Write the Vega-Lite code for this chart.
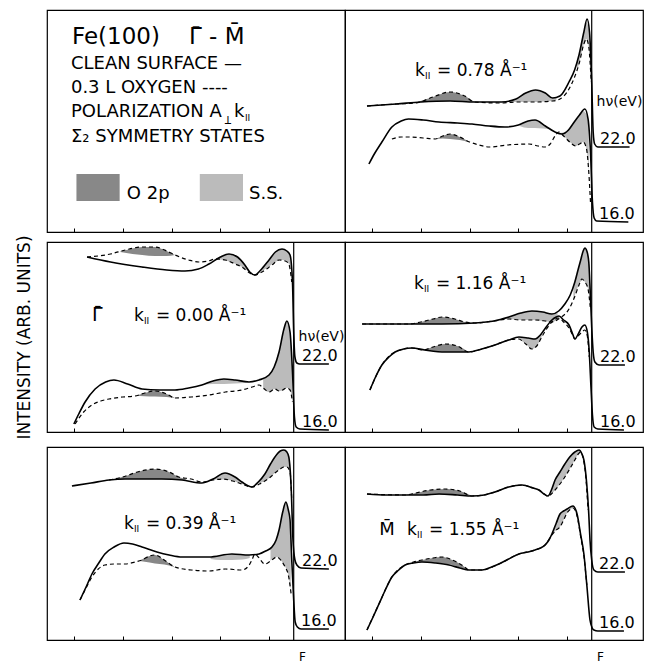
{
"padding":{"left":14,"top":8,"right":2,"bottom":0},
"config":{"view":{"stroke":"black","strokeWidth":1.2},"font":"DejaVu Sans","axis":{"labelFont":"DejaVu Sans","titleFont":"DejaVu Sans","labelColor":"black","titleColor":"black","tickColor":"black"}},
"spacing":0,
"datasets":{
"ef":[{"e":0}],
"curves":[
{"p":"r1","s":"22","k":"c","e":-9.2,"v":126},{"p":"r1","s":"22","k":"c","e":-8.0,"v":128},{"p":"r1","s":"22","k":"c","e":-7.0,"v":130},{"p":"r1","s":"22","k":"c","e":-5.8,"v":131},{"p":"r1","s":"22","k":"c","e":-4.8,"v":130},{"p":"r1","s":"22","k":"c","e":-3.7,"v":130},{"p":"r1","s":"22","k":"c","e":-3.1,"v":133},{"p":"r1","s":"22","k":"c","e":-2.7,"v":139},{"p":"r1","s":"22","k":"c","e":-2.3,"v":142},{"p":"r1","s":"22","k":"c","e":-1.9,"v":139},{"p":"r1","s":"22","k":"c","e":-1.6,"v":134},{"p":"r1","s":"22","k":"c","e":-1.3,"v":136},{"p":"r1","s":"22","k":"c","e":-0.93,"v":150},{"p":"r1","s":"22","k":"c","e":-0.7,"v":162},{"p":"r1","s":"22","k":"c","e":-0.52,"v":177},{"p":"r1","s":"22","k":"c","e":-0.32,"v":200},{"p":"r1","s":"22","k":"c","e":-0.19,"v":213},{"p":"r1","s":"22","k":"c","e":-0.09,"v":200},{"p":"r1","s":"22","k":"c","e":0.0,"v":150},{"p":"r1","s":"22","k":"c","e":0.06,"v":100},{"p":"r1","s":"22","k":"c","e":0.12,"v":88},{"p":"r1","s":"22","k":"c","e":0.25,"v":85},{"p":"r1","s":"22","k":"c","e":1.55,"v":85},
{"p":"r1","s":"22","k":"o","e":-9.2,"v":126},{"p":"r1","s":"22","k":"o","e":-8.0,"v":128},{"p":"r1","s":"22","k":"o","e":-7.2,"v":129},{"p":"r1","s":"22","k":"o","e":-6.5,"v":135},{"p":"r1","s":"22","k":"o","e":-5.8,"v":140},{"p":"r1","s":"22","k":"o","e":-5.2,"v":136},{"p":"r1","s":"22","k":"o","e":-4.8,"v":130},{"p":"r1","s":"22","k":"o","e":-3.7,"v":129},{"p":"r1","s":"22","k":"o","e":-3.1,"v":130},{"p":"r1","s":"22","k":"o","e":-2.3,"v":130},{"p":"r1","s":"22","k":"o","e":-1.6,"v":131},{"p":"r1","s":"22","k":"o","e":-1.3,"v":133},{"p":"r1","s":"22","k":"o","e":-0.93,"v":143},{"p":"r1","s":"22","k":"o","e":-0.7,"v":155},{"p":"r1","s":"22","k":"o","e":-0.52,"v":168},{"p":"r1","s":"22","k":"o","e":-0.32,"v":188},{"p":"r1","s":"22","k":"o","e":-0.22,"v":193},{"p":"r1","s":"22","k":"o","e":-0.12,"v":185},{"p":"r1","s":"22","k":"o","e":-0.02,"v":150},
{"p":"r1","s":"16","k":"c","e":-9.12,"v":68},{"p":"r1","s":"16","k":"c","e":-8.9,"v":78},{"p":"r1","s":"16","k":"c","e":-8.59,"v":90},{"p":"r1","s":"16","k":"c","e":-8.18,"v":105},{"p":"r1","s":"16","k":"c","e":-7.8,"v":111},{"p":"r1","s":"16","k":"c","e":-7.5,"v":113},{"p":"r1","s":"16","k":"c","e":-6.9,"v":112},{"p":"r1","s":"16","k":"c","e":-6.25,"v":110},{"p":"r1","s":"16","k":"c","e":-5.5,"v":109},{"p":"r1","s":"16","k":"c","e":-4.9,"v":108},{"p":"r1","s":"16","k":"c","e":-4.2,"v":106},{"p":"r1","s":"16","k":"c","e":-3.55,"v":105},{"p":"r1","s":"16","k":"c","e":-3.0,"v":107},{"p":"r1","s":"16","k":"c","e":-2.6,"v":111},{"p":"r1","s":"16","k":"c","e":-2.32,"v":112},{"p":"r1","s":"16","k":"c","e":-1.9,"v":106},{"p":"r1","s":"16","k":"c","e":-1.5,"v":100},{"p":"r1","s":"16","k":"c","e":-1.22,"v":98},{"p":"r1","s":"16","k":"c","e":-0.95,"v":102},{"p":"r1","s":"16","k":"c","e":-0.8,"v":107},{"p":"r1","s":"16","k":"c","e":-0.5,"v":117},{"p":"r1","s":"16","k":"c","e":-0.28,"v":123},{"p":"r1","s":"16","k":"c","e":-0.15,"v":113},{"p":"r1","s":"16","k":"c","e":-0.05,"v":80},{"p":"r1","s":"16","k":"c","e":0.03,"v":30},{"p":"r1","s":"16","k":"c","e":0.1,"v":14},{"p":"r1","s":"16","k":"c","e":0.2,"v":11},{"p":"r1","s":"16","k":"c","e":1.5,"v":10},
{"p":"r1","s":"16","k":"o","e":-8.18,"v":93},{"p":"r1","s":"16","k":"o","e":-7.8,"v":95},{"p":"r1","s":"16","k":"o","e":-7.5,"v":95},{"p":"r1","s":"16","k":"o","e":-6.9,"v":94},{"p":"r1","s":"16","k":"o","e":-6.4,"v":93},{"p":"r1","s":"16","k":"o","e":-6.1,"v":96},{"p":"r1","s":"16","k":"o","e":-5.8,"v":98},{"p":"r1","s":"16","k":"o","e":-5.4,"v":95},{"p":"r1","s":"16","k":"o","e":-5.0,"v":90},{"p":"r1","s":"16","k":"o","e":-4.6,"v":87},{"p":"r1","s":"16","k":"o","e":-4.2,"v":85},{"p":"r1","s":"16","k":"o","e":-3.45,"v":87},{"p":"r1","s":"16","k":"o","e":-2.57,"v":88},{"p":"r1","s":"16","k":"o","e":-2.2,"v":86},{"p":"r1","s":"16","k":"o","e":-1.91,"v":85},{"p":"r1","s":"16","k":"o","e":-1.7,"v":88},{"p":"r1","s":"16","k":"o","e":-1.5,"v":96},{"p":"r1","s":"16","k":"o","e":-1.35,"v":100},{"p":"r1","s":"16","k":"o","e":-1.15,"v":96},{"p":"r1","s":"16","k":"o","e":-0.9,"v":90},{"p":"r1","s":"16","k":"o","e":-0.65,"v":86},{"p":"r1","s":"16","k":"o","e":-0.5,"v":88},{"p":"r1","s":"16","k":"o","e":-0.35,"v":90},{"p":"r1","s":"16","k":"o","e":-0.22,"v":84},{"p":"r1","s":"16","k":"o","e":-0.12,"v":60},{"p":"r1","s":"16","k":"o","e":-0.05,"v":30},
{"p":"l2","s":"22","k":"c","e":-8.46,"v":175},{"p":"l2","s":"22","k":"c","e":-7.5,"v":170},{"p":"l2","s":"22","k":"c","e":-6.21,"v":165},{"p":"l2","s":"22","k":"c","e":-5.2,"v":162},{"p":"l2","s":"22","k":"c","e":-4.45,"v":161},{"p":"l2","s":"22","k":"c","e":-3.9,"v":163},{"p":"l2","s":"22","k":"c","e":-3.47,"v":168},{"p":"l2","s":"22","k":"c","e":-3.0,"v":175},{"p":"l2","s":"22","k":"c","e":-2.65,"v":178},{"p":"l2","s":"22","k":"c","e":-2.3,"v":175},{"p":"l2","s":"22","k":"c","e":-2.0,"v":167},{"p":"l2","s":"22","k":"c","e":-1.8,"v":160},{"p":"l2","s":"22","k":"c","e":-1.59,"v":157},{"p":"l2","s":"22","k":"c","e":-1.35,"v":162},{"p":"l2","s":"22","k":"c","e":-1.01,"v":172},{"p":"l2","s":"22","k":"c","e":-0.75,"v":180},{"p":"l2","s":"22","k":"c","e":-0.48,"v":183},{"p":"l2","s":"22","k":"c","e":-0.28,"v":181},{"p":"l2","s":"22","k":"c","e":-0.15,"v":177},{"p":"l2","s":"22","k":"c","e":-0.05,"v":150},{"p":"l2","s":"22","k":"c","e":0.0,"v":100},{"p":"l2","s":"22","k":"c","e":0.05,"v":75},{"p":"l2","s":"22","k":"c","e":0.13,"v":69},{"p":"l2","s":"22","k":"c","e":0.25,"v":68},{"p":"l2","s":"22","k":"c","e":1.44,"v":68},
{"p":"l2","s":"22","k":"o","e":-8.46,"v":175},{"p":"l2","s":"22","k":"o","e":-7.5,"v":178},{"p":"l2","s":"22","k":"o","e":-6.9,"v":182},{"p":"l2","s":"22","k":"o","e":-6.2,"v":185},{"p":"l2","s":"22","k":"o","e":-5.68,"v":185},{"p":"l2","s":"22","k":"o","e":-5.2,"v":181},{"p":"l2","s":"22","k":"o","e":-4.86,"v":177},{"p":"l2","s":"22","k":"o","e":-4.3,"v":172},{"p":"l2","s":"22","k":"o","e":-3.88,"v":170},{"p":"l2","s":"22","k":"o","e":-3.5,"v":171},{"p":"l2","s":"22","k":"o","e":-3.2,"v":173},{"p":"l2","s":"22","k":"o","e":-2.8,"v":172},{"p":"l2","s":"22","k":"o","e":-2.4,"v":168},{"p":"l2","s":"22","k":"o","e":-2.12,"v":165},{"p":"l2","s":"22","k":"o","e":-1.8,"v":159},{"p":"l2","s":"22","k":"o","e":-1.59,"v":157},{"p":"l2","s":"22","k":"o","e":-1.3,"v":160},{"p":"l2","s":"22","k":"o","e":-0.89,"v":167},{"p":"l2","s":"22","k":"o","e":-0.6,"v":172},{"p":"l2","s":"22","k":"o","e":-0.35,"v":171},{"p":"l2","s":"22","k":"o","e":-0.2,"v":168},{"p":"l2","s":"22","k":"o","e":-0.08,"v":150},
{"p":"l2","s":"16","k":"c","e":-9.0,"v":8},{"p":"l2","s":"16","k":"c","e":-8.8,"v":18},{"p":"l2","s":"16","k":"c","e":-8.54,"v":30},{"p":"l2","s":"16","k":"c","e":-8.13,"v":43},{"p":"l2","s":"16","k":"c","e":-7.7,"v":50},{"p":"l2","s":"16","k":"c","e":-7.36,"v":52},{"p":"l2","s":"16","k":"c","e":-6.8,"v":48},{"p":"l2","s":"16","k":"c","e":-6.21,"v":43},{"p":"l2","s":"16","k":"c","e":-5.5,"v":42},{"p":"l2","s":"16","k":"c","e":-4.86,"v":42},{"p":"l2","s":"16","k":"c","e":-4.3,"v":44},{"p":"l2","s":"16","k":"c","e":-3.76,"v":47},{"p":"l2","s":"16","k":"c","e":-3.3,"v":51},{"p":"l2","s":"16","k":"c","e":-2.86,"v":53},{"p":"l2","s":"16","k":"c","e":-2.4,"v":52},{"p":"l2","s":"16","k":"c","e":-1.83,"v":50},{"p":"l2","s":"16","k":"c","e":-1.42,"v":52},{"p":"l2","s":"16","k":"c","e":-1.01,"v":57},{"p":"l2","s":"16","k":"c","e":-0.8,"v":65},{"p":"l2","s":"16","k":"c","e":-0.6,"v":80},{"p":"l2","s":"16","k":"c","e":-0.4,"v":103},{"p":"l2","s":"16","k":"c","e":-0.28,"v":111},{"p":"l2","s":"16","k":"c","e":-0.15,"v":100},{"p":"l2","s":"16","k":"c","e":-0.05,"v":60},{"p":"l2","s":"16","k":"c","e":0.03,"v":15},{"p":"l2","s":"16","k":"c","e":0.1,"v":5},{"p":"l2","s":"16","k":"c","e":0.25,"v":3},{"p":"l2","s":"16","k":"c","e":1.44,"v":2},
{"p":"l2","s":"16","k":"o","e":-8.95,"v":8},{"p":"l2","s":"16","k":"o","e":-8.6,"v":20},{"p":"l2","s":"16","k":"o","e":-8.26,"v":27},{"p":"l2","s":"16","k":"o","e":-7.9,"v":31},{"p":"l2","s":"16","k":"o","e":-7.56,"v":33},{"p":"l2","s":"16","k":"o","e":-7.0,"v":35},{"p":"l2","s":"16","k":"o","e":-6.5,"v":36},{"p":"l2","s":"16","k":"o","e":-6.1,"v":39},{"p":"l2","s":"16","k":"o","e":-5.68,"v":41},{"p":"l2","s":"16","k":"o","e":-5.2,"v":38},{"p":"l2","s":"16","k":"o","e":-4.86,"v":34},{"p":"l2","s":"16","k":"o","e":-4.2,"v":35},{"p":"l2","s":"16","k":"o","e":-3.47,"v":37},{"p":"l2","s":"16","k":"o","e":-2.8,"v":40},{"p":"l2","s":"16","k":"o","e":-2.12,"v":42},{"p":"l2","s":"16","k":"o","e":-1.7,"v":45},{"p":"l2","s":"16","k":"o","e":-1.42,"v":47},{"p":"l2","s":"16","k":"o","e":-1.2,"v":43},{"p":"l2","s":"16","k":"o","e":-1.01,"v":40},{"p":"l2","s":"16","k":"o","e":-0.77,"v":43},{"p":"l2","s":"16","k":"o","e":-0.6,"v":41},{"p":"l2","s":"16","k":"o","e":-0.45,"v":42},{"p":"l2","s":"16","k":"o","e":-0.3,"v":44},{"p":"l2","s":"16","k":"o","e":-0.15,"v":42},{"p":"l2","s":"16","k":"o","e":-0.05,"v":30},
{"p":"l3","s":"22","k":"c","e":-9.08,"v":154},{"p":"l3","s":"22","k":"c","e":-8.3,"v":157},{"p":"l3","s":"22","k":"c","e":-7.56,"v":160},{"p":"l3","s":"22","k":"c","e":-6.9,"v":161},{"p":"l3","s":"22","k":"c","e":-6.21,"v":161},{"p":"l3","s":"22","k":"c","e":-5.4,"v":161},{"p":"l3","s":"22","k":"c","e":-4.57,"v":160},{"p":"l3","s":"22","k":"c","e":-3.76,"v":157},{"p":"l3","s":"22","k":"c","e":-3.3,"v":161},{"p":"l3","s":"22","k":"c","e":-2.81,"v":167},{"p":"l3","s":"22","k":"c","e":-2.4,"v":163},{"p":"l3","s":"22","k":"c","e":-2.12,"v":158},{"p":"l3","s":"22","k":"c","e":-1.71,"v":153},{"p":"l3","s":"22","k":"c","e":-1.45,"v":158},{"p":"l3","s":"22","k":"c","e":-1.18,"v":166},{"p":"l3","s":"22","k":"c","e":-0.95,"v":176},{"p":"l3","s":"22","k":"c","e":-0.77,"v":183},{"p":"l3","s":"22","k":"c","e":-0.55,"v":189},{"p":"l3","s":"22","k":"c","e":-0.4,"v":190},{"p":"l3","s":"22","k":"c","e":-0.28,"v":188},{"p":"l3","s":"22","k":"c","e":-0.2,"v":183},{"p":"l3","s":"22","k":"c","e":-0.1,"v":150},{"p":"l3","s":"22","k":"c","e":-0.03,"v":100},{"p":"l3","s":"22","k":"c","e":0.05,"v":80},{"p":"l3","s":"22","k":"c","e":0.13,"v":75},{"p":"l3","s":"22","k":"c","e":0.3,"v":72},{"p":"l3","s":"22","k":"c","e":1.44,"v":71},
{"p":"l3","s":"22","k":"o","e":-7.56,"v":160},{"p":"l3","s":"22","k":"o","e":-7.0,"v":163},{"p":"l3","s":"22","k":"o","e":-6.4,"v":168},{"p":"l3","s":"22","k":"o","e":-5.68,"v":171},{"p":"l3","s":"22","k":"o","e":-5.1,"v":168},{"p":"l3","s":"22","k":"o","e":-4.7,"v":163},{"p":"l3","s":"22","k":"o","e":-4.2,"v":161},{"p":"l3","s":"22","k":"o","e":-3.76,"v":158},{"p":"l3","s":"22","k":"o","e":-3.3,"v":160},{"p":"l3","s":"22","k":"o","e":-2.9,"v":161},{"p":"l3","s":"22","k":"o","e":-2.5,"v":159},{"p":"l3","s":"22","k":"o","e":-2.12,"v":156},{"p":"l3","s":"22","k":"o","e":-1.71,"v":153},{"p":"l3","s":"22","k":"o","e":-1.4,"v":156},{"p":"l3","s":"22","k":"o","e":-1.18,"v":159},{"p":"l3","s":"22","k":"o","e":-0.95,"v":163},{"p":"l3","s":"22","k":"o","e":-0.77,"v":167},{"p":"l3","s":"22","k":"o","e":-0.55,"v":171},{"p":"l3","s":"22","k":"o","e":-0.4,"v":173},{"p":"l3","s":"22","k":"o","e":-0.28,"v":173},{"p":"l3","s":"22","k":"o","e":-0.15,"v":168},{"p":"l3","s":"22","k":"o","e":-0.08,"v":140},
{"p":"l3","s":"16","k":"c","e":-8.75,"v":40},{"p":"l3","s":"16","k":"c","e":-8.5,"v":53},{"p":"l3","s":"16","k":"c","e":-8.26,"v":66},{"p":"l3","s":"16","k":"c","e":-7.98,"v":77},{"p":"l3","s":"16","k":"c","e":-7.73,"v":86},{"p":"l3","s":"16","k":"c","e":-7.35,"v":93},{"p":"l3","s":"16","k":"c","e":-6.95,"v":97},{"p":"l3","s":"16","k":"c","e":-6.6,"v":96},{"p":"l3","s":"16","k":"c","e":-6.21,"v":93},{"p":"l3","s":"16","k":"c","e":-5.6,"v":88},{"p":"l3","s":"16","k":"c","e":-5.1,"v":85},{"p":"l3","s":"16","k":"c","e":-4.57,"v":83},{"p":"l3","s":"16","k":"c","e":-3.47,"v":83},{"p":"l3","s":"16","k":"c","e":-2.53,"v":86},{"p":"l3","s":"16","k":"c","e":-1.83,"v":85},{"p":"l3","s":"16","k":"c","e":-1.42,"v":86},{"p":"l3","s":"16","k":"c","e":-1.15,"v":89},{"p":"l3","s":"16","k":"c","e":-0.89,"v":93},{"p":"l3","s":"16","k":"c","e":-0.72,"v":100},{"p":"l3","s":"16","k":"c","e":-0.6,"v":110},{"p":"l3","s":"16","k":"c","e":-0.45,"v":128},{"p":"l3","s":"16","k":"c","e":-0.32,"v":138},{"p":"l3","s":"16","k":"c","e":-0.22,"v":130},{"p":"l3","s":"16","k":"c","e":-0.15,"v":120},{"p":"l3","s":"16","k":"c","e":-0.08,"v":80},{"p":"l3","s":"16","k":"c","e":0.0,"v":40},{"p":"l3","s":"16","k":"c","e":0.06,"v":18},{"p":"l3","s":"16","k":"c","e":0.15,"v":13},{"p":"l3","s":"16","k":"c","e":0.3,"v":11},{"p":"l3","s":"16","k":"c","e":1.44,"v":11},
{"p":"l3","s":"16","k":"o","e":-8.75,"v":40},{"p":"l3","s":"16","k":"o","e":-8.5,"v":52},{"p":"l3","s":"16","k":"o","e":-8.26,"v":63},{"p":"l3","s":"16","k":"o","e":-8.0,"v":71},{"p":"l3","s":"16","k":"o","e":-7.73,"v":75},{"p":"l3","s":"16","k":"o","e":-7.3,"v":76},{"p":"l3","s":"16","k":"o","e":-6.9,"v":76},{"p":"l3","s":"16","k":"o","e":-6.5,"v":78},{"p":"l3","s":"16","k":"o","e":-6.21,"v":80},{"p":"l3","s":"16","k":"o","e":-5.9,"v":84},{"p":"l3","s":"16","k":"o","e":-5.68,"v":85},{"p":"l3","s":"16","k":"o","e":-5.3,"v":80},{"p":"l3","s":"16","k":"o","e":-4.86,"v":73},{"p":"l3","s":"16","k":"o","e":-4.2,"v":70},{"p":"l3","s":"16","k":"o","e":-3.47,"v":69},{"p":"l3","s":"16","k":"o","e":-2.8,"v":71},{"p":"l3","s":"16","k":"o","e":-2.12,"v":70},{"p":"l3","s":"16","k":"o","e":-1.85,"v":74},{"p":"l3","s":"16","k":"o","e":-1.71,"v":80},{"p":"l3","s":"16","k":"o","e":-1.59,"v":86},{"p":"l3","s":"16","k":"o","e":-1.45,"v":83},{"p":"l3","s":"16","k":"o","e":-1.18,"v":76},{"p":"l3","s":"16","k":"o","e":-0.95,"v":79},{"p":"l3","s":"16","k":"o","e":-0.69,"v":83},{"p":"l3","s":"16","k":"o","e":-0.5,"v":79},{"p":"l3","s":"16","k":"o","e":-0.35,"v":73},{"p":"l3","s":"16","k":"o","e":-0.22,"v":65},{"p":"l3","s":"16","k":"o","e":-0.1,"v":45},
{"p":"r2","s":"22","k":"c","e":-9.4,"v":108},{"p":"r2","s":"22","k":"c","e":-8.5,"v":108},{"p":"r2","s":"22","k":"c","e":-7.48,"v":108},{"p":"r2","s":"22","k":"c","e":-6.13,"v":108},{"p":"r2","s":"22","k":"c","e":-4.78,"v":109},{"p":"r2","s":"22","k":"c","e":-4.0,"v":111},{"p":"r2","s":"22","k":"c","e":-3.39,"v":115},{"p":"r2","s":"22","k":"c","e":-2.9,"v":119},{"p":"r2","s":"22","k":"c","e":-2.45,"v":121},{"p":"r2","s":"22","k":"c","e":-2.0,"v":120},{"p":"r2","s":"22","k":"c","e":-1.63,"v":118},{"p":"r2","s":"22","k":"c","e":-1.35,"v":121},{"p":"r2","s":"22","k":"c","e":-1.1,"v":128},{"p":"r2","s":"22","k":"c","e":-0.88,"v":137},{"p":"r2","s":"22","k":"c","e":-0.69,"v":150},{"p":"r2","s":"22","k":"c","e":-0.55,"v":163},{"p":"r2","s":"22","k":"c","e":-0.45,"v":172},{"p":"r2","s":"22","k":"c","e":-0.35,"v":181},{"p":"r2","s":"22","k":"c","e":-0.28,"v":184},{"p":"r2","s":"22","k":"c","e":-0.2,"v":181},{"p":"r2","s":"22","k":"c","e":-0.12,"v":170},{"p":"r2","s":"22","k":"c","e":-0.06,"v":140},{"p":"r2","s":"22","k":"c","e":0.0,"v":105},{"p":"r2","s":"22","k":"c","e":0.06,"v":80},{"p":"r2","s":"22","k":"c","e":0.13,"v":70},{"p":"r2","s":"22","k":"c","e":0.3,"v":67},{"p":"r2","s":"22","k":"c","e":1.36,"v":67},
{"p":"r2","s":"22","k":"o","e":-9.4,"v":108},{"p":"r2","s":"22","k":"o","e":-7.48,"v":108},{"p":"r2","s":"22","k":"o","e":-7.0,"v":110},{"p":"r2","s":"22","k":"o","e":-6.5,"v":113},{"p":"r2","s":"22","k":"o","e":-6.13,"v":115},{"p":"r2","s":"22","k":"o","e":-5.6,"v":113},{"p":"r2","s":"22","k":"o","e":-5.2,"v":110},{"p":"r2","s":"22","k":"o","e":-4.78,"v":109},{"p":"r2","s":"22","k":"o","e":-4.0,"v":111},{"p":"r2","s":"22","k":"o","e":-3.39,"v":113},{"p":"r2","s":"22","k":"o","e":-2.9,"v":112},{"p":"r2","s":"22","k":"o","e":-2.3,"v":112},{"p":"r2","s":"22","k":"o","e":-1.9,"v":111},{"p":"r2","s":"22","k":"o","e":-1.63,"v":110},{"p":"r2","s":"22","k":"o","e":-1.3,"v":114},{"p":"r2","s":"22","k":"o","e":-0.93,"v":123},{"p":"r2","s":"22","k":"o","e":-0.7,"v":135},{"p":"r2","s":"22","k":"o","e":-0.52,"v":147},{"p":"r2","s":"22","k":"o","e":-0.4,"v":153},{"p":"r2","s":"22","k":"o","e":-0.28,"v":150},{"p":"r2","s":"22","k":"o","e":-0.15,"v":143},{"p":"r2","s":"22","k":"o","e":-0.06,"v":125},
{"p":"r2","s":"16","k":"c","e":-9.08,"v":42},{"p":"r2","s":"16","k":"c","e":-8.85,"v":55},{"p":"r2","s":"16","k":"c","e":-8.59,"v":67},{"p":"r2","s":"16","k":"c","e":-8.3,"v":75},{"p":"r2","s":"16","k":"c","e":-8.05,"v":80},{"p":"r2","s":"16","k":"c","e":-7.7,"v":83},{"p":"r2","s":"16","k":"c","e":-7.36,"v":84},{"p":"r2","s":"16","k":"c","e":-6.83,"v":82},{"p":"r2","s":"16","k":"c","e":-6.0,"v":80},{"p":"r2","s":"16","k":"c","e":-5.03,"v":80},{"p":"r2","s":"16","k":"c","e":-4.5,"v":83},{"p":"r2","s":"16","k":"c","e":-3.96,"v":87},{"p":"r2","s":"16","k":"c","e":-3.4,"v":92},{"p":"r2","s":"16","k":"c","e":-2.98,"v":95},{"p":"r2","s":"16","k":"c","e":-2.6,"v":94},{"p":"r2","s":"16","k":"c","e":-2.32,"v":93},{"p":"r2","s":"16","k":"c","e":-2.1,"v":97},{"p":"r2","s":"16","k":"c","e":-1.95,"v":102},{"p":"r2","s":"16","k":"c","e":-1.63,"v":112},{"p":"r2","s":"16","k":"c","e":-1.45,"v":115},{"p":"r2","s":"16","k":"c","e":-1.34,"v":116},{"p":"r2","s":"16","k":"c","e":-1.15,"v":112},{"p":"r2","s":"16","k":"c","e":-0.93,"v":107},{"p":"r2","s":"16","k":"c","e":-0.78,"v":98},{"p":"r2","s":"16","k":"c","e":-0.69,"v":93},{"p":"r2","s":"16","k":"c","e":-0.55,"v":98},{"p":"r2","s":"16","k":"c","e":-0.4,"v":105},{"p":"r2","s":"16","k":"c","e":-0.28,"v":107},{"p":"r2","s":"16","k":"c","e":-0.18,"v":100},{"p":"r2","s":"16","k":"c","e":-0.1,"v":80},{"p":"r2","s":"16","k":"c","e":-0.03,"v":45},{"p":"r2","s":"16","k":"c","e":0.03,"v":17},{"p":"r2","s":"16","k":"c","e":0.1,"v":5},{"p":"r2","s":"16","k":"c","e":0.25,"v":3},{"p":"r2","s":"16","k":"c","e":1.32,"v":2},
{"p":"r2","s":"16","k":"o","e":-9.08,"v":42},{"p":"r2","s":"16","k":"o","e":-8.59,"v":67},{"p":"r2","s":"16","k":"o","e":-8.05,"v":80},{"p":"r2","s":"16","k":"o","e":-7.36,"v":84},{"p":"r2","s":"16","k":"o","e":-6.9,"v":82},{"p":"r2","s":"16","k":"o","e":-6.5,"v":85},{"p":"r2","s":"16","k":"o","e":-6.0,"v":88},{"p":"r2","s":"16","k":"o","e":-5.5,"v":86},{"p":"r2","s":"16","k":"o","e":-5.03,"v":80},{"p":"r2","s":"16","k":"o","e":-4.5,"v":83},{"p":"r2","s":"16","k":"o","e":-3.96,"v":87},{"p":"r2","s":"16","k":"o","e":-3.4,"v":92},{"p":"r2","s":"16","k":"o","e":-3.0,"v":93},{"p":"r2","s":"16","k":"o","e":-2.7,"v":88},{"p":"r2","s":"16","k":"o","e":-2.45,"v":83},{"p":"r2","s":"16","k":"o","e":-2.25,"v":86},{"p":"r2","s":"16","k":"o","e":-2.0,"v":97},{"p":"r2","s":"16","k":"o","e":-1.63,"v":110},{"p":"r2","s":"16","k":"o","e":-1.34,"v":114},{"p":"r2","s":"16","k":"o","e":-1.15,"v":110},{"p":"r2","s":"16","k":"o","e":-0.93,"v":104},{"p":"r2","s":"16","k":"o","e":-0.78,"v":97},{"p":"r2","s":"16","k":"o","e":-0.69,"v":93},{"p":"r2","s":"16","k":"o","e":-0.55,"v":96},{"p":"r2","s":"16","k":"o","e":-0.4,"v":100},{"p":"r2","s":"16","k":"o","e":-0.28,"v":102},{"p":"r2","s":"16","k":"o","e":-0.18,"v":96},{"p":"r2","s":"16","k":"o","e":-0.1,"v":75},
{"p":"r3","s":"22","k":"c","e":-9.2,"v":146},{"p":"r3","s":"22","k":"c","e":-8.4,"v":145},{"p":"r3","s":"22","k":"c","e":-7.64,"v":145},{"p":"r3","s":"22","k":"c","e":-6.9,"v":145},{"p":"r3","s":"22","k":"c","e":-6.25,"v":146},{"p":"r3","s":"22","k":"c","e":-5.5,"v":145},{"p":"r3","s":"22","k":"c","e":-4.9,"v":144},{"p":"r3","s":"22","k":"c","e":-4.4,"v":145},{"p":"r3","s":"22","k":"c","e":-3.96,"v":148},{"p":"r3","s":"22","k":"c","e":-3.4,"v":153},{"p":"r3","s":"22","k":"c","e":-2.85,"v":155},{"p":"r3","s":"22","k":"c","e":-2.4,"v":152},{"p":"r3","s":"22","k":"c","e":-2.16,"v":150},{"p":"r3","s":"22","k":"c","e":-1.95,"v":146},{"p":"r3","s":"22","k":"c","e":-1.79,"v":144},{"p":"r3","s":"22","k":"c","e":-1.65,"v":150},{"p":"r3","s":"22","k":"c","e":-1.5,"v":160},{"p":"r3","s":"22","k":"c","e":-1.3,"v":168},{"p":"r3","s":"22","k":"c","e":-1.1,"v":176},{"p":"r3","s":"22","k":"c","e":-0.9,"v":183},{"p":"r3","s":"22","k":"c","e":-0.69,"v":188},{"p":"r3","s":"22","k":"c","e":-0.52,"v":190},{"p":"r3","s":"22","k":"c","e":-0.4,"v":186},{"p":"r3","s":"22","k":"c","e":-0.32,"v":180},{"p":"r3","s":"22","k":"c","e":-0.2,"v":155},{"p":"r3","s":"22","k":"c","e":-0.12,"v":126},{"p":"r3","s":"22","k":"c","e":-0.07,"v":100},{"p":"r3","s":"22","k":"c","e":0.0,"v":80},{"p":"r3","s":"22","k":"c","e":0.09,"v":70},{"p":"r3","s":"22","k":"c","e":0.25,"v":68},{"p":"r3","s":"22","k":"c","e":1.36,"v":68},
{"p":"r3","s":"22","k":"o","e":-9.2,"v":146},{"p":"r3","s":"22","k":"o","e":-7.64,"v":145},{"p":"r3","s":"22","k":"o","e":-7.2,"v":147},{"p":"r3","s":"22","k":"o","e":-6.6,"v":150},{"p":"r3","s":"22","k":"o","e":-6.0,"v":151},{"p":"r3","s":"22","k":"o","e":-5.4,"v":149},{"p":"r3","s":"22","k":"o","e":-4.9,"v":144},{"p":"r3","s":"22","k":"o","e":-4.4,"v":145},{"p":"r3","s":"22","k":"o","e":-3.96,"v":148},{"p":"r3","s":"22","k":"o","e":-3.4,"v":153},{"p":"r3","s":"22","k":"o","e":-2.85,"v":155},{"p":"r3","s":"22","k":"o","e":-2.4,"v":152},{"p":"r3","s":"22","k":"o","e":-2.16,"v":150},{"p":"r3","s":"22","k":"o","e":-1.95,"v":146},{"p":"r3","s":"22","k":"o","e":-1.79,"v":144},{"p":"r3","s":"22","k":"o","e":-1.65,"v":146},{"p":"r3","s":"22","k":"o","e":-1.5,"v":150},{"p":"r3","s":"22","k":"o","e":-1.3,"v":156},{"p":"r3","s":"22","k":"o","e":-1.1,"v":163},{"p":"r3","s":"22","k":"o","e":-0.9,"v":171},{"p":"r3","s":"22","k":"o","e":-0.69,"v":180},{"p":"r3","s":"22","k":"o","e":-0.55,"v":186},{"p":"r3","s":"22","k":"o","e":-0.45,"v":188},{"p":"r3","s":"22","k":"o","e":-0.35,"v":182},{"p":"r3","s":"22","k":"o","e":-0.25,"v":165},{"p":"r3","s":"22","k":"o","e":-0.15,"v":130},
{"p":"r3","s":"16","k":"c","e":-9.2,"v":10},{"p":"r3","s":"16","k":"c","e":-8.95,"v":23},{"p":"r3","s":"16","k":"c","e":-8.71,"v":36},{"p":"r3","s":"16","k":"c","e":-8.45,"v":50},{"p":"r3","s":"16","k":"c","e":-8.18,"v":63},{"p":"r3","s":"16","k":"c","e":-7.9,"v":70},{"p":"r3","s":"16","k":"c","e":-7.64,"v":75},{"p":"r3","s":"16","k":"c","e":-7.3,"v":77},{"p":"r3","s":"16","k":"c","e":-6.95,"v":78},{"p":"r3","s":"16","k":"c","e":-6.4,"v":77},{"p":"r3","s":"16","k":"c","e":-5.84,"v":75},{"p":"r3","s":"16","k":"c","e":-5.4,"v":72},{"p":"r3","s":"16","k":"c","e":-5.03,"v":70},{"p":"r3","s":"16","k":"c","e":-4.49,"v":70},{"p":"r3","s":"16","k":"c","e":-4.1,"v":73},{"p":"r3","s":"16","k":"c","e":-3.8,"v":76},{"p":"r3","s":"16","k":"c","e":-3.4,"v":81},{"p":"r3","s":"16","k":"c","e":-2.98,"v":86},{"p":"r3","s":"16","k":"c","e":-2.6,"v":88},{"p":"r3","s":"16","k":"c","e":-2.32,"v":90},{"p":"r3","s":"16","k":"c","e":-2.1,"v":92},{"p":"r3","s":"16","k":"c","e":-1.91,"v":95},{"p":"r3","s":"16","k":"c","e":-1.75,"v":100},{"p":"r3","s":"16","k":"c","e":-1.63,"v":106},{"p":"r3","s":"16","k":"c","e":-1.45,"v":117},{"p":"r3","s":"16","k":"c","e":-1.3,"v":126},{"p":"r3","s":"16","k":"c","e":-1.15,"v":129},{"p":"r3","s":"16","k":"c","e":-1.01,"v":131},{"p":"r3","s":"16","k":"c","e":-0.77,"v":134},{"p":"r3","s":"16","k":"c","e":-0.6,"v":126},{"p":"r3","s":"16","k":"c","e":-0.45,"v":105},{"p":"r3","s":"16","k":"c","e":-0.32,"v":86},{"p":"r3","s":"16","k":"c","e":-0.2,"v":55},{"p":"r3","s":"16","k":"c","e":-0.07,"v":20},{"p":"r3","s":"16","k":"c","e":0.02,"v":12},{"p":"r3","s":"16","k":"c","e":0.09,"v":10},{"p":"r3","s":"16","k":"c","e":0.25,"v":9},{"p":"r3","s":"16","k":"c","e":1.32,"v":9},
{"p":"r3","s":"16","k":"o","e":-9.2,"v":10},{"p":"r3","s":"16","k":"o","e":-8.71,"v":36},{"p":"r3","s":"16","k":"o","e":-8.18,"v":63},{"p":"r3","s":"16","k":"o","e":-7.64,"v":75},{"p":"r3","s":"16","k":"o","e":-7.3,"v":78},{"p":"r3","s":"16","k":"o","e":-6.95,"v":80},{"p":"r3","s":"16","k":"o","e":-6.5,"v":82},{"p":"r3","s":"16","k":"o","e":-6.13,"v":83},{"p":"r3","s":"16","k":"o","e":-5.7,"v":80},{"p":"r3","s":"16","k":"o","e":-5.2,"v":73},{"p":"r3","s":"16","k":"o","e":-5.03,"v":70},{"p":"r3","s":"16","k":"o","e":-4.49,"v":70},{"p":"r3","s":"16","k":"o","e":-3.8,"v":76},{"p":"r3","s":"16","k":"o","e":-2.98,"v":86},{"p":"r3","s":"16","k":"o","e":-2.32,"v":90},{"p":"r3","s":"16","k":"o","e":-1.91,"v":95},{"p":"r3","s":"16","k":"o","e":-1.63,"v":105},{"p":"r3","s":"16","k":"o","e":-1.45,"v":110},{"p":"r3","s":"16","k":"o","e":-1.3,"v":113},{"p":"r3","s":"16","k":"o","e":-1.15,"v":120},{"p":"r3","s":"16","k":"o","e":-1.01,"v":127},{"p":"r3","s":"16","k":"o","e":-0.85,"v":131},{"p":"r3","s":"16","k":"o","e":-0.77,"v":132},{"p":"r3","s":"16","k":"o","e":-0.6,"v":124},{"p":"r3","s":"16","k":"o","e":-0.45,"v":103},{"p":"r3","s":"16","k":"o","e":-0.32,"v":84},{"p":"r3","s":"16","k":"o","e":-0.2,"v":55}
],
"hatch":[
{"p":"r1","h":"O","g":"r1a","e":-7.2,"lo":129.5,"hi":129.5},{"p":"r1","h":"O","g":"r1a","e":-6.5,"lo":130.5,"hi":135},{"p":"r1","h":"O","g":"r1a","e":-5.8,"lo":131,"hi":140},{"p":"r1","h":"O","g":"r1a","e":-5.2,"lo":130.5,"hi":136},{"p":"r1","h":"O","g":"r1a","e":-4.8,"lo":130,"hi":130},
{"p":"r1","h":"S","g":"r1b","e":-3.5,"lo":130,"hi":130.5},{"p":"r1","h":"S","g":"r1b","e":-3.1,"lo":130,"hi":133},{"p":"r1","h":"S","g":"r1b","e":-2.7,"lo":130,"hi":139},{"p":"r1","h":"S","g":"r1b","e":-2.3,"lo":130,"hi":142},{"p":"r1","h":"S","g":"r1b","e":-1.9,"lo":130.5,"hi":139},{"p":"r1","h":"S","g":"r1b","e":-1.6,"lo":131,"hi":134},{"p":"r1","h":"S","g":"r1b","e":-1.45,"lo":132,"hi":134.5},
{"p":"r1","h":"S","g":"r1c","e":-0.6,"lo":161,"hi":170},{"p":"r1","h":"S","g":"r1c","e":-0.52,"lo":168,"hi":177},{"p":"r1","h":"S","g":"r1c","e":-0.32,"lo":188,"hi":200},{"p":"r1","h":"S","g":"r1c","e":-0.22,"lo":193,"hi":209},{"p":"r1","h":"S","g":"r1c","e":-0.12,"lo":185,"hi":204},{"p":"r1","h":"S","g":"r1c","e":-0.04,"lo":157,"hi":175},
{"p":"r1","h":"O","g":"r1d","e":-6.4,"lo":93,"hi":93},{"p":"r1","h":"O","g":"r1d","e":-6.1,"lo":93.5,"hi":96},{"p":"r1","h":"O","g":"r1d","e":-5.8,"lo":93,"hi":98},{"p":"r1","h":"O","g":"r1d","e":-5.4,"lo":92,"hi":95},{"p":"r1","h":"O","g":"r1d","e":-5.0,"lo":90,"hi":90},
{"p":"r1","h":"S","g":"r1e","e":-2.95,"lo":106,"hi":107},{"p":"r1","h":"S","g":"r1e","e":-2.6,"lo":104,"hi":111},{"p":"r1","h":"S","g":"r1e","e":-2.32,"lo":104,"hi":112},{"p":"r1","h":"S","g":"r1e","e":-2.0,"lo":103.5,"hi":108},{"p":"r1","h":"S","g":"r1e","e":-1.75,"lo":103,"hi":103.7},
{"p":"r1","h":"S","g":"r1f","e":-1.3,"lo":99,"hi":99},{"p":"r1","h":"S","g":"r1f","e":-1.15,"lo":96,"hi":99.5},{"p":"r1","h":"S","g":"r1f","e":-0.9,"lo":90,"hi":104},{"p":"r1","h":"S","g":"r1f","e":-0.65,"lo":86,"hi":112},{"p":"r1","h":"S","g":"r1f","e":-0.5,"lo":88,"hi":117},{"p":"r1","h":"S","g":"r1f","e":-0.35,"lo":90,"hi":121},{"p":"r1","h":"S","g":"r1f","e":-0.22,"lo":84,"hi":118},{"p":"r1","h":"S","g":"r1f","e":-0.12,"lo":60,"hi":103},
{"p":"l2","h":"O","g":"l2a","e":-7.1,"lo":180,"hi":180.5},{"p":"l2","h":"O","g":"l2a","e":-6.6,"lo":178,"hi":183.5},{"p":"l2","h":"O","g":"l2a","e":-6.2,"lo":177,"hi":185},{"p":"l2","h":"O","g":"l2a","e":-5.68,"lo":176,"hi":185},{"p":"l2","h":"O","g":"l2a","e":-5.2,"lo":176,"hi":181},{"p":"l2","h":"O","g":"l2a","e":-4.86,"lo":177,"hi":177},
{"p":"l2","h":"S","g":"l2b","e":-3.3,"lo":172,"hi":172},{"p":"l2","h":"S","g":"l2b","e":-3.0,"lo":172.5,"hi":175},{"p":"l2","h":"S","g":"l2b","e":-2.65,"lo":170.5,"hi":178},{"p":"l2","h":"S","g":"l2b","e":-2.3,"lo":167,"hi":175},{"p":"l2","h":"S","g":"l2b","e":-2.0,"lo":163.5,"hi":167},{"p":"l2","h":"S","g":"l2b","e":-1.8,"lo":159,"hi":160},
{"p":"l2","h":"S","g":"l2c","e":-1.35,"lo":160,"hi":162},{"p":"l2","h":"S","g":"l2c","e":-1.01,"lo":165.5,"hi":172},{"p":"l2","h":"S","g":"l2c","e":-0.75,"lo":170,"hi":180},{"p":"l2","h":"S","g":"l2c","e":-0.48,"lo":172,"hi":183},{"p":"l2","h":"S","g":"l2c","e":-0.28,"lo":170,"hi":181},{"p":"l2","h":"S","g":"l2c","e":-0.15,"lo":166,"hi":177},{"p":"l2","h":"S","g":"l2c","e":-0.06,"lo":150,"hi":152},
{"p":"l2","h":"O","g":"l2d","e":-6.5,"lo":36,"hi":36},{"p":"l2","h":"O","g":"l2d","e":-6.1,"lo":35.8,"hi":39},{"p":"l2","h":"O","g":"l2d","e":-5.68,"lo":35.5,"hi":41},{"p":"l2","h":"O","g":"l2d","e":-5.2,"lo":35,"hi":38},{"p":"l2","h":"O","g":"l2d","e":-4.86,"lo":34,"hi":34},
{"p":"l2","h":"S","g":"l2e","e":-3.7,"lo":47.5,"hi":47.8},{"p":"l2","h":"S","g":"l2e","e":-3.3,"lo":48,"hi":51},{"p":"l2","h":"S","g":"l2e","e":-2.86,"lo":48,"hi":53},{"p":"l2","h":"S","g":"l2e","e":-2.4,"lo":48.5,"hi":52},{"p":"l2","h":"S","g":"l2e","e":-2.0,"lo":49,"hi":50.5},{"p":"l2","h":"S","g":"l2e","e":-1.8,"lo":50,"hi":50},
{"p":"l2","h":"S","g":"l2f","e":-1.25,"lo":44,"hi":54},{"p":"l2","h":"S","g":"l2f","e":-1.01,"lo":40,"hi":57},{"p":"l2","h":"S","g":"l2f","e":-0.8,"lo":43,"hi":65},{"p":"l2","h":"S","g":"l2f","e":-0.6,"lo":41,"hi":80},{"p":"l2","h":"S","g":"l2f","e":-0.4,"lo":42,"hi":103},{"p":"l2","h":"S","g":"l2f","e":-0.28,"lo":44,"hi":111},{"p":"l2","h":"S","g":"l2f","e":-0.15,"lo":42,"hi":100},{"p":"l2","h":"S","g":"l2f","e":-0.06,"lo":32,"hi":64},
{"p":"l3","h":"O","g":"l3a","e":-7.3,"lo":160.5,"hi":161.5},{"p":"l3","h":"O","g":"l3a","e":-6.9,"lo":161,"hi":163.8},{"p":"l3","h":"O","g":"l3a","e":-6.4,"lo":161,"hi":168},{"p":"l3","h":"O","g":"l3a","e":-5.68,"lo":161,"hi":171},{"p":"l3","h":"O","g":"l3a","e":-5.1,"lo":161,"hi":168},{"p":"l3","h":"O","g":"l3a","e":-4.7,"lo":160,"hi":163},{"p":"l3","h":"O","g":"l3a","e":-4.4,"lo":160,"hi":160.5},
{"p":"l3","h":"S","g":"l3b","e":-3.35,"lo":160.3,"hi":160.5},{"p":"l3","h":"S","g":"l3b","e":-2.81,"lo":160.5,"hi":167},{"p":"l3","h":"S","g":"l3b","e":-2.4,"lo":158.5,"hi":163},{"p":"l3","h":"S","g":"l3b","e":-2.12,"lo":156,"hi":158},{"p":"l3","h":"S","g":"l3b","e":-1.85,"lo":154,"hi":154.5},
{"p":"l3","h":"S","g":"l3c","e":-1.45,"lo":156.5,"hi":158},{"p":"l3","h":"S","g":"l3c","e":-1.18,"lo":159,"hi":166},{"p":"l3","h":"S","g":"l3c","e":-0.95,"lo":163,"hi":176},{"p":"l3","h":"S","g":"l3c","e":-0.77,"lo":167,"hi":183},{"p":"l3","h":"S","g":"l3c","e":-0.55,"lo":171,"hi":189},{"p":"l3","h":"S","g":"l3c","e":-0.4,"lo":173,"hi":190},{"p":"l3","h":"S","g":"l3c","e":-0.28,"lo":173,"hi":188},{"p":"l3","h":"S","g":"l3c","e":-0.2,"lo":170,"hi":183},{"p":"l3","h":"S","g":"l3c","e":-0.12,"lo":156,"hi":157},
{"p":"l3","h":"O","g":"l3d","e":-6.3,"lo":79,"hi":79.5},{"p":"l3","h":"O","g":"l3d","e":-5.9,"lo":77.5,"hi":84},{"p":"l3","h":"O","g":"l3d","e":-5.68,"lo":76.5,"hi":85},{"p":"l3","h":"O","g":"l3d","e":-5.3,"lo":75.5,"hi":80},{"p":"l3","h":"O","g":"l3d","e":-4.9,"lo":73,"hi":73.5},
{"p":"l3","h":"S","g":"l3e","e":-3.4,"lo":81,"hi":83},{"p":"l3","h":"S","g":"l3e","e":-3.0,"lo":80,"hi":84.5},{"p":"l3","h":"S","g":"l3e","e":-2.53,"lo":80,"hi":86},{"p":"l3","h":"S","g":"l3e","e":-2.1,"lo":80.5,"hi":85.5},{"p":"l3","h":"S","g":"l3e","e":-1.8,"lo":82,"hi":85},
{"p":"l3","h":"S","g":"l3f","e":-0.95,"lo":79,"hi":92},{"p":"l3","h":"S","g":"l3f","e":-0.89,"lo":81,"hi":93},{"p":"l3","h":"S","g":"l3f","e":-0.72,"lo":83,"hi":100},{"p":"l3","h":"S","g":"l3f","e":-0.6,"lo":82,"hi":110},{"p":"l3","h":"S","g":"l3f","e":-0.45,"lo":77,"hi":128},{"p":"l3","h":"S","g":"l3f","e":-0.32,"lo":72,"hi":138},{"p":"l3","h":"S","g":"l3f","e":-0.22,"lo":65,"hi":130},{"p":"l3","h":"S","g":"l3f","e":-0.12,"lo":50,"hi":103},
{"p":"r2","h":"O","g":"r2a","e":-7.48,"lo":108,"hi":108},{"p":"r2","h":"O","g":"r2a","e":-7.0,"lo":108,"hi":110},{"p":"r2","h":"O","g":"r2a","e":-6.5,"lo":108,"hi":113},{"p":"r2","h":"O","g":"r2a","e":-6.13,"lo":108,"hi":115},{"p":"r2","h":"O","g":"r2a","e":-5.6,"lo":108.2,"hi":113},{"p":"r2","h":"O","g":"r2a","e":-5.2,"lo":108.5,"hi":110},{"p":"r2","h":"O","g":"r2a","e":-4.9,"lo":109,"hi":109},
{"p":"r2","h":"S","g":"r2b","e":-3.7,"lo":112,"hi":113},{"p":"r2","h":"S","g":"r2b","e":-3.39,"lo":113,"hi":115},{"p":"r2","h":"S","g":"r2b","e":-2.9,"lo":112,"hi":119},{"p":"r2","h":"S","g":"r2b","e":-2.45,"lo":112,"hi":121},{"p":"r2","h":"S","g":"r2b","e":-2.0,"lo":111,"hi":120},{"p":"r2","h":"S","g":"r2b","e":-1.63,"lo":110,"hi":118},{"p":"r2","h":"S","g":"r2b","e":-1.4,"lo":112.5,"hi":120},
{"p":"r2","h":"S","g":"r2c","e":-0.75,"lo":132,"hi":146},{"p":"r2","h":"S","g":"r2c","e":-0.55,"lo":146,"hi":163},{"p":"r2","h":"S","g":"r2c","e":-0.45,"lo":150.5,"hi":172},{"p":"r2","h":"S","g":"r2c","e":-0.35,"lo":152,"hi":181},{"p":"r2","h":"S","g":"r2c","e":-0.28,"lo":150,"hi":184},{"p":"r2","h":"S","g":"r2c","e":-0.2,"lo":146,"hi":181},{"p":"r2","h":"S","g":"r2c","e":-0.12,"lo":141,"hi":170},{"p":"r2","h":"S","g":"r2c","e":-0.06,"lo":125,"hi":140},
{"p":"r2","h":"O","g":"r2d","e":-6.9,"lo":82,"hi":82},{"p":"r2","h":"O","g":"r2d","e":-6.5,"lo":81,"hi":85},{"p":"r2","h":"O","g":"r2d","e":-6.0,"lo":80,"hi":88},{"p":"r2","h":"O","g":"r2d","e":-5.5,"lo":80,"hi":86},{"p":"r2","h":"O","g":"r2d","e":-5.03,"lo":80,"hi":80},
{"p":"r2","h":"S","g":"r2e","e":-3.05,"lo":94.5,"hi":94.8},{"p":"r2","h":"S","g":"r2e","e":-2.7,"lo":88,"hi":94.5},{"p":"r2","h":"S","g":"r2e","e":-2.45,"lo":83,"hi":93.5},{"p":"r2","h":"S","g":"r2e","e":-2.25,"lo":86,"hi":94.5},{"p":"r2","h":"S","g":"r2e","e":-2.05,"lo":95,"hi":98.5},
{"p":"r3","h":"O","g":"r3a","e":-7.64,"lo":145,"hi":145},{"p":"r3","h":"O","g":"r3a","e":-7.2,"lo":145,"hi":147},{"p":"r3","h":"O","g":"r3a","e":-6.6,"lo":145.5,"hi":150},{"p":"r3","h":"O","g":"r3a","e":-6.0,"lo":145.5,"hi":151},{"p":"r3","h":"O","g":"r3a","e":-5.4,"lo":145,"hi":149},{"p":"r3","h":"O","g":"r3a","e":-4.9,"lo":144,"hi":144},
{"p":"r3","h":"S","g":"r3b","e":-1.79,"lo":144,"hi":144},{"p":"r3","h":"S","g":"r3b","e":-1.65,"lo":146,"hi":150},{"p":"r3","h":"S","g":"r3b","e":-1.5,"lo":150,"hi":160},{"p":"r3","h":"S","g":"r3b","e":-1.3,"lo":156,"hi":168},{"p":"r3","h":"S","g":"r3b","e":-1.1,"lo":163,"hi":176},{"p":"r3","h":"S","g":"r3b","e":-0.9,"lo":171,"hi":183},{"p":"r3","h":"S","g":"r3b","e":-0.69,"lo":180,"hi":188},{"p":"r3","h":"S","g":"r3b","e":-0.55,"lo":186,"hi":189.5},{"p":"r3","h":"S","g":"r3b","e":-0.45,"lo":188,"hi":188.5},
{"p":"r3","h":"O","g":"r3c","e":-7.64,"lo":75,"hi":75},{"p":"r3","h":"O","g":"r3c","e":-7.3,"lo":77,"hi":78},{"p":"r3","h":"O","g":"r3c","e":-6.95,"lo":78,"hi":80},{"p":"r3","h":"O","g":"r3c","e":-6.5,"lo":77.5,"hi":82},{"p":"r3","h":"O","g":"r3c","e":-6.13,"lo":76.5,"hi":83},{"p":"r3","h":"O","g":"r3c","e":-5.7,"lo":75,"hi":80},{"p":"r3","h":"O","g":"r3c","e":-5.2,"lo":71,"hi":73},{"p":"r3","h":"O","g":"r3c","e":-5.03,"lo":70,"hi":70},
{"p":"r3","h":"S","g":"r3d","e":-1.7,"lo":103,"hi":103},{"p":"r3","h":"S","g":"r3d","e":-1.63,"lo":105,"hi":106},{"p":"r3","h":"S","g":"r3d","e":-1.45,"lo":110,"hi":117},{"p":"r3","h":"S","g":"r3d","e":-1.3,"lo":113,"hi":126},{"p":"r3","h":"S","g":"r3d","e":-1.15,"lo":120,"hi":129},{"p":"r3","h":"S","g":"r3d","e":-1.01,"lo":127,"hi":131},{"p":"r3","h":"S","g":"r3d","e":-0.85,"lo":131,"hi":132.5},{"p":"r3","h":"S","g":"r3d","e":-0.77,"lo":132,"hi":134},{"p":"r3","h":"S","g":"r3d","e":-0.7,"lo":130.5,"hi":131}
]
},
"vconcat":[
{"hconcat":[
{"width":298,"height":222,"layer":[
 {"data":{"name":"ef"},"mark":{"type":"point","opacity":0,"size":1},"encoding":{"x":{"field":"e","type":"quantitative","scale":{"domain":[-10.1,2.1],"nice":false},"axis":{"orient":"bottom","values":[-9,-8,-7,-6,-5,-4,-3,-2,-1,0],"labels":false,"ticks":true,"tickSize":-4,"domain":false,"grid":false,"title":null}},"y":{"field":"e","type":"quantitative","scale":{"domain":[0,222],"nice":false},"axis":{"orient":"left","title":"INTENSITY (ARB. UNITS)","titleFontSize":17,"titleFontWeight":"normal","titlePadding":14,"titleOpacity":0,"labels":false,"ticks":false,"domain":false,"grid":false}}}},
 {"data":{"values":[{}]},"mark":{"type":"text","text":"Fe(100)","fontSize":23,"align":"left","baseline":"alphabetic"},"encoding":{"x":{"datum":-9.08,"type":"quantitative"},"y":{"datum":188,"type":"quantitative"}}},
 {"data":{"values":[{}]},"mark":{"type":"text","text":"Γ̄ - M̄","fontSize":23,"align":"left","baseline":"alphabetic"},"encoding":{"x":{"datum":-4.29,"type":"quantitative"},"y":{"datum":188,"type":"quantitative"}}},
 {"data":{"values":[{}]},"mark":{"type":"text","text":"CLEAN SURFACE —","fontSize":18,"align":"left","baseline":"alphabetic"},"encoding":{"x":{"datum":-9.12,"type":"quantitative"},"y":{"datum":163,"type":"quantitative"}}},
 {"data":{"values":[{}]},"mark":{"type":"text","text":"0.3 L OXYGEN ----","fontSize":18,"align":"left","baseline":"alphabetic"},"encoding":{"x":{"datum":-9.12,"type":"quantitative"},"y":{"datum":139,"type":"quantitative"}}},
 {"data":{"values":[{}]},"mark":{"type":"text","text":"POLARIZATION A","fontSize":18,"align":"left","baseline":"alphabetic"},"encoding":{"x":{"datum":-9.12,"type":"quantitative"},"y":{"datum":115,"type":"quantitative"}}},
 {"data":{"values":[{}]},"mark":{"type":"text","text":"T","fontSize":10,"align":"center","baseline":"middle","angle":180},"encoding":{"x":{"datum":-2.69,"type":"quantitative"},"y":{"datum":113,"type":"quantitative"}}},
 {"data":{"values":[{}]},"mark":{"type":"text","text":"k","fontSize":18,"align":"left","baseline":"alphabetic","dx":163},"encoding":{"x":{"datum":-9.12,"type":"quantitative"},"y":{"datum":115,"type":"quantitative"}}},
 {"data":{"values":[{}]},"mark":{"type":"text","text":"II","fontSize":9,"align":"left","baseline":"alphabetic","dx":174,"dy":4},"encoding":{"x":{"datum":-9.12,"type":"quantitative"},"y":{"datum":115,"type":"quantitative"}}},
 {"data":{"values":[{}]},"mark":{"type":"text","text":"Σ₂ SYMMETRY STATES","fontSize":18,"align":"left","baseline":"alphabetic"},"encoding":{"x":{"datum":-9.12,"type":"quantitative"},"y":{"datum":90,"type":"quantitative"}}},
 {"data":{"values":[{}]},"mark":{"type":"point","shape":"M-1.6,-1L1.6,-1L1.6,1L-1.6,1Z","filled":true,"size":729,"opacity":1,"color":"#888888"},"encoding":{"x":{"datum":-8.01,"type":"quantitative"},"y":{"datum":44.5,"type":"quantitative"}}},
 {"data":{"values":[{}]},"mark":{"type":"text","text":"O 2p","fontSize":18,"align":"left","baseline":"alphabetic"},"encoding":{"x":{"datum":-6.83,"type":"quantitative"},"y":{"datum":33,"type":"quantitative"}}},
 {"data":{"values":[{}]},"mark":{"type":"point","shape":"M-1.6,-1L1.6,-1L1.6,1L-1.6,1Z","filled":true,"size":729,"opacity":1,"color":"#bbbbbb"},"encoding":{"x":{"datum":-2.96,"type":"quantitative"},"y":{"datum":44.5,"type":"quantitative"}}},
 {"data":{"values":[{}]},"mark":{"type":"text","text":"S.S.","fontSize":18,"align":"left","baseline":"alphabetic"},"encoding":{"x":{"datum":-1.83,"type":"quantitative"},"y":{"datum":33,"type":"quantitative"}}}
]},
{"width":298,"height":222,"layer":[
 {"data":{"name":"hatch"},"transform":[{"filter":"datum.p=='r1'&&datum.h=='O'"}],"mark":{"type":"area","interpolate":"monotone","color":"#888888"},"encoding":{"x":{"field":"e","type":"quantitative","scale":{"domain":[-10.1,2.1],"nice":false},"axis":{"orient":"bottom","values":[-9,-8,-7,-6,-5,-4,-3,-2,-1,0],"labels":false,"ticks":true,"tickSize":-4,"domain":false,"grid":false,"title":null}},"y":{"field":"lo","type":"quantitative","scale":{"domain":[0,222],"nice":false},"axis":{"orient":"left","labels":false,"ticks":false,"domain":false,"grid":false,"title":null}},"y2":{"field":"hi"},"detail":{"field":"g"}}},
 {"data":{"name":"hatch"},"transform":[{"filter":"datum.p=='r1'&&datum.h=='S'"}],"mark":{"type":"area","interpolate":"monotone","color":"#bbbbbb"},"encoding":{"x":{"field":"e","type":"quantitative"},"y":{"field":"lo","type":"quantitative"},"y2":{"field":"hi"},"detail":{"field":"g"}}},
 {"data":{"name":"curves"},"transform":[{"filter":"datum.p=='r1'&&datum.k=='o'"}],"mark":{"type":"line","interpolate":"monotone","color":"black","strokeWidth":1.2,"strokeDash":[4,3]},"encoding":{"x":{"field":"e","type":"quantitative"},"y":{"field":"v","type":"quantitative"},"detail":{"field":"s"}}},
 {"data":{"name":"curves"},"transform":[{"filter":"datum.p=='r1'&&datum.k=='c'"}],"mark":{"type":"line","interpolate":"monotone","color":"black","strokeWidth":1.6},"encoding":{"x":{"field":"e","type":"quantitative"},"y":{"field":"v","type":"quantitative"},"detail":{"field":"s"}}},
 {"data":{"name":"ef"},"mark":{"type":"rule","color":"black","strokeWidth":1.2},"encoding":{"x":{"field":"e","type":"quantitative"}}},
 {"data":{"values":[{}]},"mark":{"type":"text","text":"k","fontSize":17,"align":"left","baseline":"middle"},"encoding":{"x":{"datum":-7.23,"type":"quantitative"},"y":{"datum":161,"type":"quantitative"}}},
 {"data":{"values":[{}]},"mark":{"type":"text","text":"II","fontSize":9,"align":"left","baseline":"middle","dx":10,"dy":5},"encoding":{"x":{"datum":-7.23,"type":"quantitative"},"y":{"datum":161,"type":"quantitative"}}},
 {"data":{"values":[{}]},"mark":{"type":"text","text":"= 0.78 Å⁻¹","fontSize":17,"align":"left","baseline":"middle","dx":22},"encoding":{"x":{"datum":-7.23,"type":"quantitative"},"y":{"datum":161,"type":"quantitative"}}},
 {"data":{"values":[{}]},"mark":{"type":"text","text":"hν(eV)","fontSize":14,"align":"left","baseline":"alphabetic"},"encoding":{"x":{"datum":0.2,"type":"quantitative"},"y":{"datum":126,"type":"quantitative"}}},
 {"data":{"values":[{}]},"mark":{"type":"text","text":"22.0","fontSize":16,"align":"left","baseline":"alphabetic"},"encoding":{"x":{"datum":0.34,"type":"quantitative"},"y":{"datum":88,"type":"quantitative"}}},
 {"data":{"values":[{}]},"mark":{"type":"text","text":"16.0","fontSize":16,"align":"left","baseline":"alphabetic"},"encoding":{"x":{"datum":0.3,"type":"quantitative"},"y":{"datum":13,"type":"quantitative"}}}
]}
],"spacing":0,"bounds":"flush"},
{"hconcat":[
{"width":298,"height":190,"layer":[
 {"data":{"name":"hatch"},"transform":[{"filter":"datum.p=='l2'&&datum.h=='O'"}],"mark":{"type":"area","interpolate":"monotone","color":"#888888"},"encoding":{"x":{"field":"e","type":"quantitative","scale":{"domain":[-10.1,2.1],"nice":false},"axis":{"orient":"bottom","values":[-9,-8,-7,-6,-5,-4,-3,-2,-1,0],"labels":false,"ticks":true,"tickSize":-4,"domain":false,"grid":false,"title":null}},"y":{"field":"lo","type":"quantitative","scale":{"domain":[0,190],"nice":false},"axis":{"orient":"left","title":"INTENSITY (ARB. UNITS)","titleFontSize":17,"titleFontWeight":"normal","titlePadding":14,"labels":false,"ticks":false,"domain":false,"grid":false}},"y2":{"field":"hi"},"detail":{"field":"g"}}},
 {"data":{"name":"hatch"},"transform":[{"filter":"datum.p=='l2'&&datum.h=='S'"}],"mark":{"type":"area","interpolate":"monotone","color":"#bbbbbb"},"encoding":{"x":{"field":"e","type":"quantitative"},"y":{"field":"lo","type":"quantitative"},"y2":{"field":"hi"},"detail":{"field":"g"}}},
 {"data":{"name":"curves"},"transform":[{"filter":"datum.p=='l2'&&datum.k=='o'"}],"mark":{"type":"line","interpolate":"monotone","color":"black","strokeWidth":1.2,"strokeDash":[4,3]},"encoding":{"x":{"field":"e","type":"quantitative"},"y":{"field":"v","type":"quantitative"},"detail":{"field":"s"}}},
 {"data":{"name":"curves"},"transform":[{"filter":"datum.p=='l2'&&datum.k=='c'"}],"mark":{"type":"line","interpolate":"monotone","color":"black","strokeWidth":1.6},"encoding":{"x":{"field":"e","type":"quantitative"},"y":{"field":"v","type":"quantitative"},"detail":{"field":"s"}}},
 {"data":{"name":"ef"},"mark":{"type":"rule","color":"black","strokeWidth":1.2},"encoding":{"x":{"field":"e","type":"quantitative"}}},
 {"data":{"values":[{}]},"mark":{"type":"text","text":"Γ̄","fontSize":19,"align":"left","baseline":"middle"},"encoding":{"x":{"datum":-8.26,"type":"quantitative"},"y":{"datum":117,"type":"quantitative"}}},
 {"data":{"values":[{}]},"mark":{"type":"text","text":"k","fontSize":17,"align":"left","baseline":"middle"},"encoding":{"x":{"datum":-6.54,"type":"quantitative"},"y":{"datum":116,"type":"quantitative"}}},
 {"data":{"values":[{}]},"mark":{"type":"text","text":"II","fontSize":9,"align":"left","baseline":"middle","dx":10,"dy":5},"encoding":{"x":{"datum":-6.54,"type":"quantitative"},"y":{"datum":116,"type":"quantitative"}}},
 {"data":{"values":[{}]},"mark":{"type":"text","text":"= 0.00 Å⁻¹","fontSize":17,"align":"left","baseline":"middle","dx":22},"encoding":{"x":{"datum":-6.54,"type":"quantitative"},"y":{"datum":116,"type":"quantitative"}}},
 {"data":{"values":[{}]},"mark":{"type":"text","text":"hν(eV)","fontSize":14,"align":"left","baseline":"alphabetic"},"encoding":{"x":{"datum":0.2,"type":"quantitative"},"y":{"datum":91,"type":"quantitative"}}},
 {"data":{"values":[{}]},"mark":{"type":"text","text":"22.0","fontSize":16,"align":"left","baseline":"alphabetic"},"encoding":{"x":{"datum":0.34,"type":"quantitative"},"y":{"datum":71,"type":"quantitative"}}},
 {"data":{"values":[{}]},"mark":{"type":"text","text":"16.0","fontSize":16,"align":"left","baseline":"alphabetic"},"encoding":{"x":{"datum":0.34,"type":"quantitative"},"y":{"datum":5,"type":"quantitative"}}}
]},
{"width":298,"height":190,"layer":[
 {"data":{"name":"hatch"},"transform":[{"filter":"datum.p=='r2'&&datum.h=='O'"}],"mark":{"type":"area","interpolate":"monotone","color":"#888888"},"encoding":{"x":{"field":"e","type":"quantitative","scale":{"domain":[-10.1,2.1],"nice":false},"axis":{"orient":"bottom","values":[-9,-8,-7,-6,-5,-4,-3,-2,-1,0],"labels":false,"ticks":true,"tickSize":-4,"domain":false,"grid":false,"title":null}},"y":{"field":"lo","type":"quantitative","scale":{"domain":[0,190],"nice":false},"axis":{"orient":"left","labels":false,"ticks":false,"domain":false,"grid":false,"title":null}},"y2":{"field":"hi"},"detail":{"field":"g"}}},
 {"data":{"name":"hatch"},"transform":[{"filter":"datum.p=='r2'&&datum.h=='S'"}],"mark":{"type":"area","interpolate":"monotone","color":"#bbbbbb"},"encoding":{"x":{"field":"e","type":"quantitative"},"y":{"field":"lo","type":"quantitative"},"y2":{"field":"hi"},"detail":{"field":"g"}}},
 {"data":{"name":"curves"},"transform":[{"filter":"datum.p=='r2'&&datum.k=='o'"}],"mark":{"type":"line","interpolate":"monotone","color":"black","strokeWidth":1.2,"strokeDash":[4,3]},"encoding":{"x":{"field":"e","type":"quantitative"},"y":{"field":"v","type":"quantitative"},"detail":{"field":"s"}}},
 {"data":{"name":"curves"},"transform":[{"filter":"datum.p=='r2'&&datum.k=='c'"}],"mark":{"type":"line","interpolate":"monotone","color":"black","strokeWidth":1.6},"encoding":{"x":{"field":"e","type":"quantitative"},"y":{"field":"v","type":"quantitative"},"detail":{"field":"s"}}},
 {"data":{"name":"ef"},"mark":{"type":"rule","color":"black","strokeWidth":1.2},"encoding":{"x":{"field":"e","type":"quantitative"}}},
 {"data":{"values":[{}]},"mark":{"type":"text","text":"k","fontSize":17,"align":"left","baseline":"middle"},"encoding":{"x":{"datum":-7.28,"type":"quantitative"},"y":{"datum":148,"type":"quantitative"}}},
 {"data":{"values":[{}]},"mark":{"type":"text","text":"II","fontSize":9,"align":"left","baseline":"middle","dx":10,"dy":5},"encoding":{"x":{"datum":-7.28,"type":"quantitative"},"y":{"datum":148,"type":"quantitative"}}},
 {"data":{"values":[{}]},"mark":{"type":"text","text":"= 1.16 Å⁻¹","fontSize":17,"align":"left","baseline":"middle","dx":22},"encoding":{"x":{"datum":-7.28,"type":"quantitative"},"y":{"datum":148,"type":"quantitative"}}},
 {"data":{"values":[{}]},"mark":{"type":"text","text":"22.0","fontSize":16,"align":"left","baseline":"alphabetic"},"encoding":{"x":{"datum":0.34,"type":"quantitative"},"y":{"datum":70,"type":"quantitative"}}},
 {"data":{"values":[{}]},"mark":{"type":"text","text":"16.0","fontSize":16,"align":"left","baseline":"alphabetic"},"encoding":{"x":{"datum":0.34,"type":"quantitative"},"y":{"datum":5,"type":"quantitative"}}}
]}
],"spacing":0,"bounds":"flush"},
{"hconcat":[
{"width":298,"height":193,"layer":[
 {"data":{"name":"hatch"},"transform":[{"filter":"datum.p=='l3'&&datum.h=='O'"}],"mark":{"type":"area","interpolate":"monotone","color":"#888888"},"encoding":{"x":{"field":"e","type":"quantitative","scale":{"domain":[-10.1,2.1],"nice":false},"axis":{"orient":"bottom","values":[-9,-8,-7,-6,-5,-4,-3,-2,-1,0],"labelExpr":"datum.value==0?'E':(datum.value%2==0?'-'+abs(datum.value):'')","labelFontSize":16,"labelPadding":7,"labelOverlap":false,"labelFlush":false,"ticks":true,"tickSize":-4,"domain":false,"grid":false,"title":"INITIAL-STATE ENERGY (eV)","titleFontSize":20,"titleFontWeight":"normal","titleX":282,"titlePadding":6}},"y":{"field":"lo","type":"quantitative","scale":{"domain":[0,193],"nice":false},"axis":{"orient":"left","title":"INTENSITY (ARB. UNITS)","titleFontSize":17,"titleFontWeight":"normal","titlePadding":14,"titleOpacity":0,"labels":false,"ticks":false,"domain":false,"grid":false}},"y2":{"field":"hi"},"detail":{"field":"g"}}},
 {"data":{"name":"hatch"},"transform":[{"filter":"datum.p=='l3'&&datum.h=='S'"}],"mark":{"type":"area","interpolate":"monotone","color":"#bbbbbb"},"encoding":{"x":{"field":"e","type":"quantitative"},"y":{"field":"lo","type":"quantitative"},"y2":{"field":"hi"},"detail":{"field":"g"}}},
 {"data":{"name":"curves"},"transform":[{"filter":"datum.p=='l3'&&datum.k=='o'"}],"mark":{"type":"line","interpolate":"monotone","color":"black","strokeWidth":1.2,"strokeDash":[4,3]},"encoding":{"x":{"field":"e","type":"quantitative"},"y":{"field":"v","type":"quantitative"},"detail":{"field":"s"}}},
 {"data":{"name":"curves"},"transform":[{"filter":"datum.p=='l3'&&datum.k=='c'"}],"mark":{"type":"line","interpolate":"monotone","color":"black","strokeWidth":1.6},"encoding":{"x":{"field":"e","type":"quantitative"},"y":{"field":"v","type":"quantitative"},"detail":{"field":"s"}}},
 {"data":{"name":"ef"},"mark":{"type":"rule","color":"black","strokeWidth":1.2},"encoding":{"x":{"field":"e","type":"quantitative"}}},
 {"data":{"values":[{}]},"mark":{"type":"text","text":"k","fontSize":17,"align":"left","baseline":"middle"},"encoding":{"x":{"datum":-6.95,"type":"quantitative"},"y":{"datum":116,"type":"quantitative"}}},
 {"data":{"values":[{}]},"mark":{"type":"text","text":"II","fontSize":9,"align":"left","baseline":"middle","dx":10,"dy":5},"encoding":{"x":{"datum":-6.95,"type":"quantitative"},"y":{"datum":116,"type":"quantitative"}}},
 {"data":{"values":[{}]},"mark":{"type":"text","text":"= 0.39 Å⁻¹","fontSize":17,"align":"left","baseline":"middle","dx":22},"encoding":{"x":{"datum":-6.95,"type":"quantitative"},"y":{"datum":116,"type":"quantitative"}}},
 {"data":{"values":[{}]},"mark":{"type":"text","text":"22.0","fontSize":16,"align":"left","baseline":"alphabetic"},"encoding":{"x":{"datum":0.34,"type":"quantitative"},"y":{"datum":74,"type":"quantitative"}}},
 {"data":{"values":[{}]},"mark":{"type":"text","text":"16.0","fontSize":16,"align":"left","baseline":"alphabetic"},"encoding":{"x":{"datum":0.3,"type":"quantitative"},"y":{"datum":14,"type":"quantitative"}}},
 {"data":{"values":[{}]},"mark":{"type":"text","text":"F","fontSize":12,"align":"center","baseline":"alphabetic"},"encoding":{"x":{"datum":0.36,"type":"quantitative"},"y":{"datum":-21,"type":"quantitative"}}}
]},
{"width":298,"height":193,"layer":[
 {"data":{"name":"hatch"},"transform":[{"filter":"datum.p=='r3'&&datum.h=='O'"}],"mark":{"type":"area","interpolate":"monotone","color":"#888888"},"encoding":{"x":{"field":"e","type":"quantitative","scale":{"domain":[-10.1,2.1],"nice":false},"axis":{"orient":"bottom","values":[-9,-8,-7,-6,-5,-4,-3,-2,-1,0],"labelExpr":"datum.value==0?'E':(datum.value%2==0?'-'+abs(datum.value):'')","labelFontSize":16,"labelPadding":7,"labelOverlap":false,"labelFlush":false,"ticks":true,"tickSize":-4,"domain":false,"grid":false,"title":null}},"y":{"field":"lo","type":"quantitative","scale":{"domain":[0,193],"nice":false},"axis":{"orient":"left","labels":false,"ticks":false,"domain":false,"grid":false,"title":null}},"y2":{"field":"hi"},"detail":{"field":"g"}}},
 {"data":{"name":"hatch"},"transform":[{"filter":"datum.p=='r3'&&datum.h=='S'"}],"mark":{"type":"area","interpolate":"monotone","color":"#bbbbbb"},"encoding":{"x":{"field":"e","type":"quantitative"},"y":{"field":"lo","type":"quantitative"},"y2":{"field":"hi"},"detail":{"field":"g"}}},
 {"data":{"name":"curves"},"transform":[{"filter":"datum.p=='r3'&&datum.k=='o'"}],"mark":{"type":"line","interpolate":"monotone","color":"black","strokeWidth":1.2,"strokeDash":[4,3]},"encoding":{"x":{"field":"e","type":"quantitative"},"y":{"field":"v","type":"quantitative"},"detail":{"field":"s"}}},
 {"data":{"name":"curves"},"transform":[{"filter":"datum.p=='r3'&&datum.k=='c'"}],"mark":{"type":"line","interpolate":"monotone","color":"black","strokeWidth":1.6},"encoding":{"x":{"field":"e","type":"quantitative"},"y":{"field":"v","type":"quantitative"},"detail":{"field":"s"}}},
 {"data":{"name":"ef"},"mark":{"type":"rule","color":"black","strokeWidth":1.2},"encoding":{"x":{"field":"e","type":"quantitative"}}},
 {"data":{"values":[{}]},"mark":{"type":"text","text":"M̄","fontSize":18,"align":"left","baseline":"middle"},"encoding":{"x":{"datum":-8.7,"type":"quantitative"},"y":{"datum":110,"type":"quantitative"}}},
 {"data":{"values":[{}]},"mark":{"type":"text","text":"k","fontSize":17,"align":"left","baseline":"middle"},"encoding":{"x":{"datum":-7.56,"type":"quantitative"},"y":{"datum":110,"type":"quantitative"}}},
 {"data":{"values":[{}]},"mark":{"type":"text","text":"II","fontSize":9,"align":"left","baseline":"middle","dx":10,"dy":5},"encoding":{"x":{"datum":-7.56,"type":"quantitative"},"y":{"datum":110,"type":"quantitative"}}},
 {"data":{"values":[{}]},"mark":{"type":"text","text":"= 1.55 Å⁻¹","fontSize":17,"align":"left","baseline":"middle","dx":22},"encoding":{"x":{"datum":-7.56,"type":"quantitative"},"y":{"datum":110,"type":"quantitative"}}},
 {"data":{"values":[{}]},"mark":{"type":"text","text":"22.0","fontSize":16,"align":"left","baseline":"alphabetic"},"encoding":{"x":{"datum":0.3,"type":"quantitative"},"y":{"datum":71,"type":"quantitative"}}},
 {"data":{"values":[{}]},"mark":{"type":"text","text":"16.0","fontSize":16,"align":"left","baseline":"alphabetic"},"encoding":{"x":{"datum":0.3,"type":"quantitative"},"y":{"datum":12,"type":"quantitative"}}},
 {"data":{"values":[{}]},"mark":{"type":"text","text":"F","fontSize":12,"align":"center","baseline":"alphabetic"},"encoding":{"x":{"datum":0.36,"type":"quantitative"},"y":{"datum":-21,"type":"quantitative"}}}
]}
],"spacing":0,"bounds":"flush"}
]
}
